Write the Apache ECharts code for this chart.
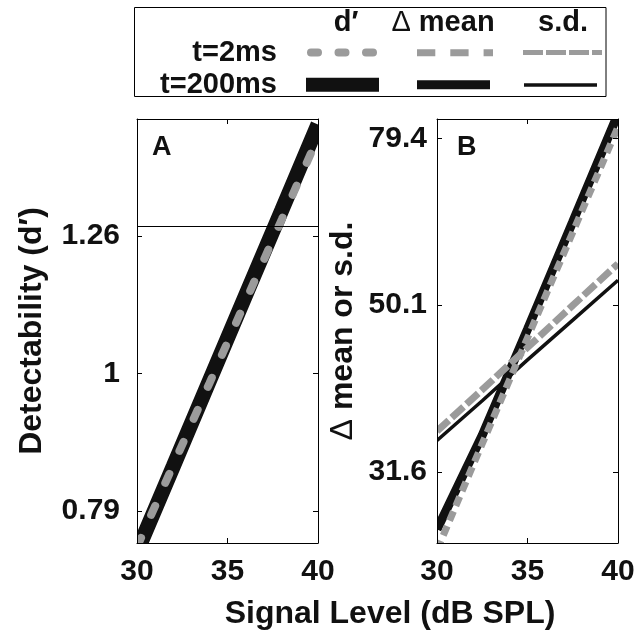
<!DOCTYPE html>
<html>
<head>
<meta charset="utf-8">
<script src="https://cdn.jsdelivr.net/npm/echarts@6/dist/echarts.min.js"></script>
<style>
  html, body { margin: 0; padding: 0; background: #fff; }
  #chart { width: 638px; height: 630px; }
</style>
</head>
<body>
<div id="chart"></div>
<script>
// signal level (dB SPL)
const levels = [30, 32, 34, 36, 38, 40]
// panel A: detectability d'
const dPrime200 = [0.742, 0.856, 0.988, 1.140, 1.315, 1.518]
const dPrime2 = [0.748, 0.858, 0.984, 1.129, 1.295, 1.486]
const criterion = 1.28

// panel B: delta mean / s.d.
const levelsB = [30, 32.5, 35, 37.5, 40]
const deltaMean200 = [27.0, 35.0, 46.9, 63.1, 85.0]
const deltaMean2 = [25.5, 34.2, 45.8, 61.3, 82.0]
const sd200 = [34.5, 38.5, 43.1, 48.1, 53.7]
const sd2 = [35.4, 39.7, 44.6, 50.1, 56.2]

// ticks
const dPrimeTicks = [0.7943, 1, 1.2589]
const dPrimeTickLabels = ['0.79', '1', '1.26']
const meanTicks = [31.62, 50.12, 79.43]
const meanTickLabels = ['31.6', '50.1', '79.4']

const legendCols = ['d\u2032', '{d|\u0394} mean', 's.d.']
const legendRows = ['t=2ms', 't=200ms']

const font = '"Liberation Sans", Arial, Helvetica, sans-serif'
const ink = '#111'
const grey = '#9b9b9b'

const grids = [
    { left: 137, top: 119, width: 181, height: 424 },
    { left: 437, top: 119, width: 181, height: 424 }
]

const pairs = (xs, ys) => xs.map((x, i) => [x, ys[i]])

const nearestLabel = (ticks, labels) => v => {
    let best = 0
    ticks.forEach((t, i) => {
        if (Math.abs(Math.log(t / v)) < Math.abs(Math.log(ticks[best] / v))) best = i
    })
    return labels[best]
}

function xAxisFor(gridIndex, top) {
    return {
        type: 'value', gridIndex, position: top ? 'top' : 'bottom', z: 6,
        min: 30, max: 40, interval: 5,
        axisLine: { show: true, onZero: false, lineStyle: { color: '#000', width: 1 } },
        axisTick: { show: true, inside: true, length: 5, lineStyle: { color: '#000' } },
        axisLabel: { show: !top, margin: 14, color: ink, fontSize: 30, fontWeight: 'bold', fontFamily: font },
        splitLine: { show: false }
    }
}

function yAxisFor(gridIndex, right, min, max, ticks, labels, margin, name, nameGap) {
    return {
        type: 'log', logBase: 10, gridIndex, position: right ? 'right' : 'left', z: 6,
        min, max,
        axisLine: { show: true, onZero: false, lineStyle: { color: '#000', width: 1 } },
        axisTick: { show: true, inside: true, length: 5, customValues: ticks, lineStyle: { color: '#000' } },
        axisLabel: {
            show: !right, customValues: ticks, margin,
            formatter: nearestLabel(ticks, labels),
            color: ink, fontSize: 30, fontWeight: 'bold', fontFamily: font
        },
        splitLine: { show: false },
        name: right ? '' : name,
        nameLocation: 'middle', nameGap, nameRotate: 90,
        nameTextStyle: {
            color: ink, fontSize: 32, fontWeight: 'bold', fontFamily: font,
            rich: { d: { fontSize: 32, fontWeight: 'normal', fontFamily: font, color: ink } }
        }
    }
}

const legendText = (text, x, y, align) => ({
    type: 'text', x, y,
    style: {
        text, fill: ink, align, verticalAlign: 'middle',
        font: 'bold 29px ' + font,
        rich: { d: { fontSize: 29, fontWeight: 'normal', fontFamily: font, fill: ink } }
    }
})

const swatch = (x1, x2, y, color, width, dash, cap) => ({
    type: 'line',
    shape: { x1, y1: y, x2, y2: y },
    style: { stroke: color, lineWidth: width, lineDash: dash, lineCap: cap || 'butt' }
})

// white frames around each plot box: thick lines are cut at the box edge
const masks = []
grids.forEach(g => {
    const r = g.left + g.width, b = g.top + g.height, pad = 17
    const rect = (x, y, width, height) => ({
        type: 'rect', z: 4, silent: true,
        shape: { x, y, width, height }, style: { fill: '#fff' }
    })
    masks.push(rect(g.left - pad, g.top - pad, g.width + 2 * pad, pad))
    masks.push(rect(g.left - pad, b, g.width + 2 * pad, 12))
    masks.push(rect(g.left - pad, g.top - pad, pad, g.height + pad + 12))
    masks.push(rect(r, g.top - pad, pad, g.height + pad + 12))
})

const option = {
    animation: false,
    backgroundColor: '#fff',
    grid: grids,
    xAxis: [xAxisFor(0, false), xAxisFor(0, true), xAxisFor(1, false), xAxisFor(1, true)],
    yAxis: [
        yAxisFor(0, false, 0.753, 1.532, dPrimeTicks, dPrimeTickLabels, 17, 'Detectability (d\u2032)', 89),
        yAxisFor(0, true, 0.753, 1.532, dPrimeTicks, dPrimeTickLabels, 17, '', 0),
        yAxisFor(1, false, 26.0, 83.8, meanTicks, meanTickLabels, 10, '{d|\u0394} mean or s.d.', 78),
        yAxisFor(1, true, 26.0, 83.8, meanTicks, meanTickLabels, 10, '', 0)
    ],
    series: [
        {
            name: "d' t=200ms", type: 'line', xAxisIndex: 0, yAxisIndex: 0,
            data: pairs(levels, dPrime200), symbol: 'none', z: 2,
            lineStyle: { color: ink, width: 15 },
            markLine: {
                silent: true, symbol: 'none', label: { show: false },
                lineStyle: { color: '#000', width: 1.2, type: 'solid' },
                data: [{ yAxis: criterion }]
            }
        },
        {
            name: "d' t=2ms", type: 'line', xAxisIndex: 0, yAxisIndex: 0,
            data: pairs(levels, dPrime2), symbol: 'none', z: 3,
            lineStyle: { color: grey, width: 8, type: [10, 25], cap: 'round' }
        },
        {
            name: 'mean t=200ms', type: 'line', xAxisIndex: 2, yAxisIndex: 2,
            data: pairs(levelsB, deltaMean200), symbol: 'none', z: 2,
            lineStyle: { color: ink, width: 9 }
        },
        {
            name: 'sd t=200ms', type: 'line', xAxisIndex: 2, yAxisIndex: 2,
            data: pairs(levelsB, sd200), symbol: 'none', z: 2,
            lineStyle: { color: ink, width: 3.5 }
        },
        {
            name: 'mean t=2ms', type: 'line', xAxisIndex: 2, yAxisIndex: 2,
            data: pairs(levelsB, deltaMean2), symbol: 'none', z: 3,
            lineStyle: { color: grey, width: 7, type: [10, 6] }
        },
        {
            name: 'sd t=2ms', type: 'line', xAxisIndex: 2, yAxisIndex: 2,
            data: pairs(levelsB, sd2), symbol: 'none', z: 3,
            lineStyle: { color: grey, width: 7, type: [16, 4] }
        }
    ],
    graphic: masks.concat([
        {
            type: 'rect', shape: { x: 134.5, y: 7.5, width: 471.5, height: 89 },
            style: { fill: 'none', stroke: '#000', lineWidth: 1 }
        },
        legendText(legendCols[0], 346, 23, 'center'),
        legendText(legendCols[1], 443, 23, 'center'),
        legendText(legendCols[2], 563, 23, 'center'),
        legendText(legendRows[0], 277, 52.5, 'right'),
        legendText(legendRows[1], 277, 85, 'right'),
        swatch(311, 374, 52.5, grey, 8, [7, 20.5], 'round'),
        swatch(306, 379, 84.7, ink, 14),
        swatch(417, 493, 52.7, grey, 7, [18.3, 15]),
        swatch(417, 490, 84.7, ink, 9),
        swatch(523, 602, 52.5, grey, 5, [20, 3]),
        swatch(524, 597, 85, ink, 3.5),
        {
            type: 'text', x: 152, y: 148,
            style: { text: 'A', fill: ink, align: 'left', verticalAlign: 'middle', font: 'bold 27px ' + font }
        },
        {
            type: 'text', x: 457, y: 148,
            style: { text: 'B', fill: ink, align: 'left', verticalAlign: 'middle', font: 'bold 27px ' + font }
        },
        {
            type: 'text', x: 390, y: 614,
            style: { text: 'Signal Level (dB SPL)', fill: ink, align: 'center', verticalAlign: 'middle', font: 'bold 32px ' + font }
        }
    ])
}

const chart = echarts.init(document.getElementById('chart'))
chart.setOption(option)
</script>
</body>
</html>
